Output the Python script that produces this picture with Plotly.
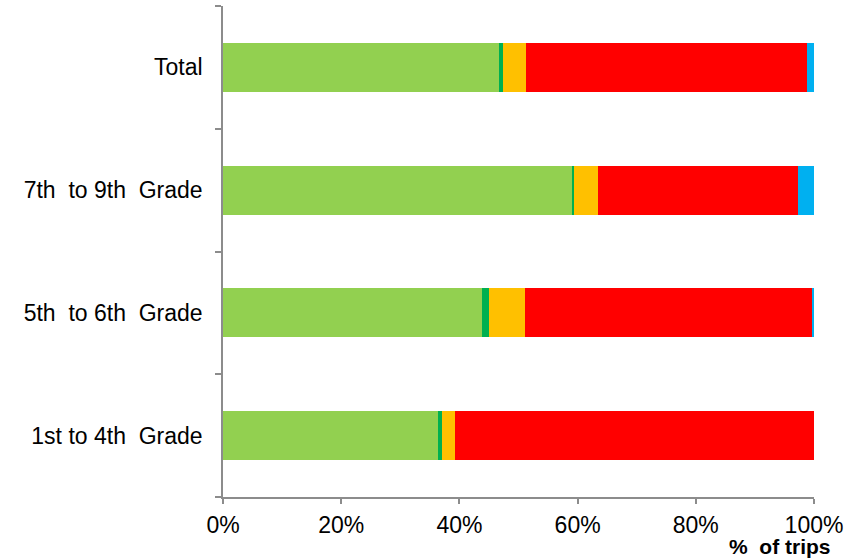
import plotly.graph_objects as go

# Grade groups, listed bottom to top
grades = ["1st to 4th\u00a0 Grade", "5th\u00a0 to 6th\u00a0 Grade", "7th\u00a0 to 9th\u00a0 Grade", "Total"]

# Share of trips (%) per mode segment
seg_a = [36.4, 43.9, 59.0, 46.7]
seg_b = [0.6, 1.1, 0.4, 0.7]
seg_c = [2.2, 6.1, 4.1, 3.9]
seg_d = [60.8, 48.6, 33.8, 47.5]
seg_e = [0.0, 0.3, 2.7, 1.2]

series = [
    (seg_a, "#92D050"),
    (seg_b, "#00B050"),
    (seg_c, "#FFC000"),
    (seg_d, "#FF0000"),
    (seg_e, "#00B0F0"),
]

fig = go.Figure()
for vals, color in series:
    fig.add_trace(go.Bar(
        y=grades, x=vals, orientation="h",
        marker=dict(color=color, line=dict(width=0)),
        width=0.40, showlegend=False, hoverinfo="x+y",
    ))

font = "Liberation Sans, Arial, sans-serif"
fig.update_layout(
    barmode="stack",
    width=864, height=558,
    margin=dict(l=223, r=50, t=6, b=61),
    paper_bgcolor="white", plot_bgcolor="white",
    font=dict(family=font, size=23, color="#000000"),
    xaxis=dict(
        range=[0, 100], tickvals=[0, 20, 40, 60, 80, 100],
        ticktext=["0%", "20%", "40%", "60%", "80%", "100%"],
        showgrid=False, zeroline=False,
        showline=True, linecolor="#8C8C8C", linewidth=1.5,
        ticks="outside", ticklen=5, tickcolor="#8C8C8C", tickwidth=1.5,
        tickfont=dict(size=23), ticklabelstandoff=2,
    ),
    yaxis=dict(
        type="category", range=[-0.5, 3.5],
        showgrid=False, zeroline=False,
        showline=True, linecolor="#8C8C8C", linewidth=1.5,
        ticks="outside", ticklen=6, tickcolor="#8C8C8C", tickwidth=1.5,
        tickson="boundaries", ticklabelstandoff=14,
        tickfont=dict(size=23),
    ),
    annotations=[dict(
        text="<b>%\u00a0 of trips</b>", xref="paper", yref="paper",
        x=1.032, y=0, xanchor="right", yanchor="middle", yshift=-49,
        showarrow=False, font=dict(size=21, family=font, color="#000000"),
    )],
)

fig.write_html("out.html")
